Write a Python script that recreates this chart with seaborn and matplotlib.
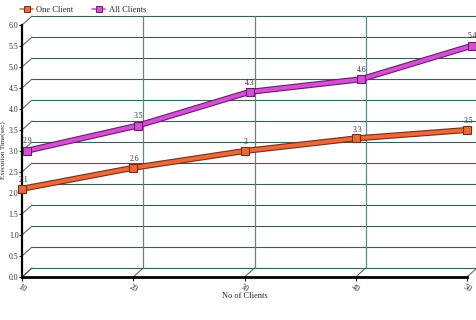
import matplotlib
matplotlib.use("Agg")
import matplotlib.pyplot as plt
import matplotlib.transforms as mt
from matplotlib.lines import Line2D
import seaborn as sns
import pandas as pd

clients = [10, 20, 30, 40, 50]
one_client = [2.1, 2.6, 3.0, 3.3, 3.5]
all_clients = [2.9, 3.5, 4.3, 4.6, 5.4]
one_labels = ["2.1", "2.6", "3", "3.3", "3.5"]
all_labels = ["2.9", "3.5", "4.3", "4.6", "5.4"]
y_ticks = [0.0, 0.5, 1.0, 1.5, 2.0, 2.5, 3.0, 3.5, 4.0, 4.5, 5.0, 5.5, 6.0]

sns.set_style("white")
plt.rcParams['font.family'] = ['Liberation Serif', 'DejaVu Serif']

W, H = 477, 320
fig = plt.figure(figsize=(W / 100, H / 100), dpi=100)
L, R, B, T = 22, 467, 277, 25
ax = fig.add_axes([L / W, 1 - B / H, (R - L) / W, (B - T) / H])
ax.set_xlim(10, 50)
ax.set_ylim(0, 6)

px_x = 40 / (R - L)
px_y = 6 / (B - T)
DX, DY = 10 * px_x, 9 * px_y

grid_c = "#3f5c5c"
vert_c = "#5f8585"
for yv in y_ticks:
    ax.plot([10 + DX, 50 + DX], [yv + DY, yv + DY], color=grid_c, lw=0.8, clip_on=False, zorder=1)
    ax.plot([10, 10 + DX], [yv, yv + DY], color=grid_c, lw=0.7, clip_on=False, zorder=1)
for xv in clients:
    if xv != 10:
        ax.plot([xv + DX, xv + DX], [DY, 6 + DY], color=vert_c, lw=0.9, clip_on=False, zorder=1)
    ax.plot([xv, xv + DX], [0, DY], color=grid_c, lw=0.7, clip_on=False, zorder=1)

df = pd.DataFrame({"clients": clients, "One Client": one_client, "All Clients": all_clients})

orange, orange_e = "#e8693a", "#7a2e12"
pink, pink_e = "#d34fd3", "#6e1a6e"
half = mt.ScaledTranslation(5 / 100, 4.5 / 100, fig.dpi_scale_trans)

def draw(col, c, ec, z, shift):
    n0 = len(ax.get_lines())
    sns.lineplot(data=df, x="clients", y=col, ax=ax, color=ec, lw=4.4, zorder=z, clip_on=False)
    sns.lineplot(data=df, x="clients", y=col, ax=ax, color=c, lw=2.8,
                 marker="s", markersize=5.5, markerfacecolor=c, markeredgecolor=ec,
                 markeredgewidth=0.8, zorder=z + 0.1, clip_on=False)
    if shift is not None:
        for ln in ax.get_lines()[n0:]:
            ln.set_transform(ax.transData + shift)

draw("All Clients", pink, pink_e, 4, half)
draw("One Client", orange, orange_e, 5, None)

for xv, yv, lab in zip(clients, one_client, one_labels):
    ax.annotate(lab, (xv, yv), xytext=(1, 3.5), textcoords="offset points",
                ha="center", va="bottom", fontsize=5.5, color="#333333", zorder=6,
                annotation_clip=False)
for xv, yv, lab in zip(clients, all_clients, all_labels):
    ax.annotate(lab, (xv, yv), xytext=(4, 7), textcoords="offset points",
                ha="center", va="bottom", fontsize=5.5, color="#333333", zorder=6,
                annotation_clip=False)

ax.set_xticks(clients)
ax.set_xticklabels([str(c) for c in clients], rotation=-30, fontsize=6, color="#333333")
ax.set_yticks(y_ticks)
ax.set_yticklabels([f"{v:.1f}" for v in y_ticks], fontsize=5.6, color="#333333")
ax.tick_params(axis="x", length=3, width=0.8, pad=1, direction="out", bottom=True)
ax.tick_params(axis="y", length=2, width=0.8, pad=0.5, direction="out", left=True)
for s in ["top", "right"]:
    ax.spines[s].set_visible(False)
ax.spines["left"].set_linewidth(1.6)
ax.spines["bottom"].set_linewidth(2.0)
ax.spines["left"].set_color("black")
ax.spines["bottom"].set_color("black")
ax.set_xlabel("")
ax.set_ylabel("")
ax.patch.set_alpha(0)

fig.text(245 / W, 1 - 296 / H, "No of Clients", ha="center", va="center", fontsize=6, color="#222222")
fig.text(3.6 / W, 1 - 150 / H, "Execution Time(sec)", ha="center", va="center",
         rotation=90, fontsize=5, color="#222222")

handles = [
    Line2D([], [], color=orange, lw=1.2, marker="s", markersize=5,
           markerfacecolor=orange, markeredgecolor=orange_e, markeredgewidth=0.7),
    Line2D([], [], color=pink, lw=1.2, marker="s", markersize=5,
           markerfacecolor=pink, markeredgecolor=pink_e, markeredgewidth=0.7),
]
fig.legend(handles, ["One Client", "All Clients"], loc="upper left",
           bbox_to_anchor=(14 / W, 1 - 0 / H), ncol=2, frameon=False, fontsize=6,
           handlelength=1.6, columnspacing=2.2, handletextpad=0.4, borderpad=0.2)

fig.savefig("out.png", dpi=100)
